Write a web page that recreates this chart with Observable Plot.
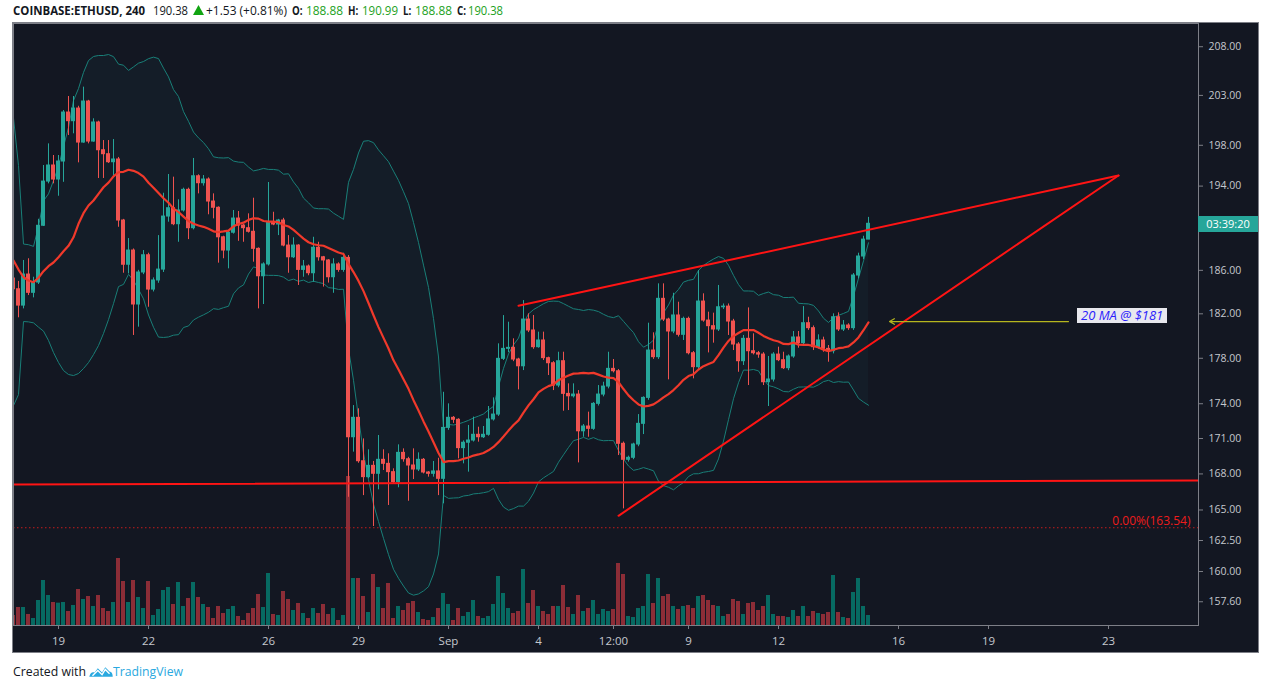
<!DOCTYPE html>
<html><head><meta charset="utf-8">
<script src="https://cdn.jsdelivr.net/npm/d3@7"></script>
<script src="https://cdn.jsdelivr.net/npm/@observablehq/plot@0.6"></script>
<style>
body{margin:0;background:#fff;width:1274px;height:685px;position:relative;overflow:hidden;font-family:"Open Sans",sans-serif;}
.fit{position:absolute;white-space:nowrap;transform-origin:0 50%;display:inline-block;}
#header .fit{top:1px;font-size:13px;line-height:19px;color:#131722;}
#header .b{font-weight:700;}
#header .g{color:#1ba11b;}
#panel{position:absolute;left:13px;top:23px;width:1245px;height:629px;background:#131722;outline:1px solid #7d7f87;}
#panel .layer{position:absolute;left:0;top:0;}
#countdown{position:absolute;left:1185px;top:193px;width:60px;height:16px;background:#26a69a;color:#fff;font-size:11px;line-height:16px;text-align:center;}
#note{position:absolute;left:1064px;top:285px;background:#e8e8ee;color:#2b1dfc;font-style:italic;font-size:13px;line-height:15px;padding:0 4px;white-space:nowrap;}
#caption .fit{top:661px;font-size:13.5px;line-height:20px;color:#131722;}
#caption .tv{color:#2aa9e0;}
#logo{position:absolute;left:89px;top:663px;}
</style></head>
<body>
<div id="header">
  <span class="fit b" data-w="132" style="left:13px">COINBASE:ETHUSD, 240</span>
  <span class="fit" data-w="35" style="left:153px">190.38</span>
  <svg style="position:absolute;left:193px;top:5px" width="11" height="10" viewBox="0 0 11 10"><path d="M5.5 0 L11 10 L0 10 Z" fill="#12a412"/></svg>
  <span class="fit" data-w="81" style="left:206px">+1.53 (+0.81%)</span>
  <span class="fit b" data-w="10" style="left:292px">O:</span><span class="fit g" data-w="37" style="left:306px">188.88</span>
  <span class="fit b" data-w="10" style="left:348px">H:</span><span class="fit g" data-w="36" style="left:362px">190.99</span>
  <span class="fit b" data-w="8" style="left:403px">L:</span><span class="fit g" data-w="37" style="left:415px">188.88</span>
  <span class="fit b" data-w="9" style="left:457px">C:</span><span class="fit g" data-w="35" style="left:468px">190.38</span>
</div>
<div id="panel">
  <div class="layer" id="vol"></div>
  <div class="layer" id="price"></div>
  <div id="countdown">03:39:20</div>
  <div id="note">20 MA @ $181</div>
</div>
<div id="caption">
  <span class="fit" data-w="73" style="left:13px">Created with</span>
  <svg id="logo" width="24" height="16" viewBox="0 0 22 15"><path d="M0 13 C1 9 3 8 5 9 L8 5 L12 9 L15 4 L19 8 C21 8 22 10 22 13 Z" fill="#2aa9e0"/><path d="M3 12 L8 7 L12 11 L15 6 L19 10" stroke="#fff" stroke-width="1.3" fill="none"/></svg>
  <span class="fit tv" data-w="70" style="left:113px">TradingView</span>
</div>
<script>
// ---- data (4-hour candles, first bar 2019-08-17 12:00 UTC) ----
const firstBar = "2019-08-17T12:00Z";
const opens = [185.24,184.25,182.75,185.61,183.92,184.87,190.19,194.44,196.01,194.64,196.40,201.27,200.40,201.67,198.27,202.38,198.37,200.27,197.51,197.12,
196.33,196.60,190.69,186.52,187.85,182.85,185.80,187.41,184.22,185.06,186.07,191.07,191.87,190.34,191.65,193.64,189.96,194.96,194.28,194.64,
192.51,191.91,189.10,187.85,189.53,190.88,190.21,189.96,189.62,188.01,185.45,186.55,190.53,190.31,190.69,188.32,187.22,188.32,186.04,186.36,
185.73,188.11,187.22,186.92,185.36,186.55,186.04,187.16,171.11,172.78,169.07,167.73,168.68,168.01,169.19,168.85,168.15,167.31,169.78,169.24,
168.71,168.37,169.19,168.12,168.01,168.21,167.59,171.91,172.78,172.61,170.18,170.64,170.83,171.32,171.11,171.32,172.64,173.06,177.95,178.84,
178.93,177.89,177.29,181.48,180.49,178.99,179.59,178.01,177.56,175.59,177.74,174.86,174.65,174.80,171.62,172.03,171.83,173.99,174.80,175.50,
177.06,176.85,170.55,169.19,169.36,170.49,172.26,174.51,178.69,178.10,183.37,181.48,180.40,181.85,180.10,181.54,178.45,177.21,183.12,181.39,
180.88,180.58,182.60,182.66,181.30,179.23,177.74,179.74,178.63,178.45,178.33,175.88,176.12,178.33,177.83,177.12,178.16,179.86,179.35,181.15,
180.70,178.99,179.59,178.84,178.63,181.69,180.58,180.94,180.70,185.52,187.29,188.88];
const highs = [185.52,184.97,186.92,187.08,185.36,190.81,196.01,198.14,196.99,196.99,201.47,202.89,202.89,201.90,203.84,202.50,200.64,200.40,198.47,198.47,
198.57,196.80,190.80,188.98,188.00,186.00,187.85,187.60,185.30,189.26,193.31,195.13,194.87,192.68,193.80,193.80,196.70,195.10,195.03,194.80,
193.25,192.00,189.20,189.70,191.65,191.55,190.30,191.33,192.83,188.10,186.70,194.35,191.48,190.80,190.90,189.26,189.05,188.40,186.92,186.50,
189.10,188.63,187.30,187.00,187.08,186.70,187.60,187.38,173.84,173.56,170.97,170.04,169.05,171.26,170.04,169.70,168.43,170.46,170.12,169.40,
170.12,169.78,169.30,168.20,169.05,169.32,175.00,173.99,172.89,172.70,170.80,172.12,172.84,171.97,172.03,173.76,174.51,179.29,181.84,181.24,
179.74,178.00,183.21,182.00,181.85,180.34,180.34,178.10,177.70,178.54,178.54,175.74,175.74,175.15,172.20,173.27,174.10,175.59,175.88,178.54,
177.89,177.00,170.70,169.50,170.60,173.06,174.60,181.15,180.28,184.75,184.75,181.60,183.88,183.06,181.70,181.70,178.60,185.98,183.83,182.15,
182.06,184.60,182.90,182.90,181.50,179.40,180.04,182.54,180.19,178.60,178.50,178.16,178.50,178.99,178.54,178.30,180.40,180.40,182.66,181.69,
180.90,180.10,179.89,179.14,182.00,182.09,181.39,181.10,185.70,187.60,189.20,190.99];
const lows = [183.95,181.64,182.45,183.67,183.46,184.69,190.12,194.22,194.22,193.02,194.37,198.97,199.14,196.27,198.20,198.14,198.30,194.74,194.74,196.21,
195.03,190.05,185.73,185.67,180.04,180.79,185.60,182.60,184.00,184.80,185.80,190.53,190.20,188.63,191.50,188.88,189.80,193.25,194.00,191.24,
190.85,186.67,187.08,186.14,189.40,188.72,188.63,189.50,186.76,182.45,182.85,186.40,190.20,189.26,188.20,185.73,187.10,184.60,185.36,185.50,
184.90,186.86,184.45,184.82,183.88,185.82,185.82,166.05,169.84,168.90,166.19,167.60,163.64,166.67,168.29,165.37,167.20,166.84,168.99,165.72,
167.53,168.20,168.00,167.73,167.73,166.19,165.51,171.70,172.30,169.27,168.85,168.15,170.70,170.69,171.00,171.20,172.50,172.90,177.80,178.50,
177.70,175.21,176.91,180.30,178.80,178.90,177.80,176.47,175.15,175.40,173.35,173.41,174.50,168.93,171.11,171.11,171.70,173.80,174.60,175.30,
176.70,169.55,165.09,169.00,169.20,170.30,171.34,174.30,177.90,177.90,181.30,176.09,180.20,179.90,179.59,178.30,176.18,177.00,181.24,178.48,
179.35,180.40,182.40,180.04,178.69,176.76,177.36,175.59,178.30,178.00,175.59,173.76,175.90,177.70,177.00,176.90,178.00,178.90,179.20,180.50,
178.69,178.80,178.54,177.65,178.39,180.40,180.40,180.50,180.50,185.20,187.00,188.88];
const closes = [184.25,182.75,185.61,183.92,184.87,190.19,194.44,196.01,194.64,196.40,201.27,200.40,201.67,198.27,202.38,198.37,200.27,197.51,197.12,196.33,
196.60,190.69,186.52,187.85,182.85,185.80,187.41,184.22,185.06,186.07,191.07,191.87,190.34,191.65,193.64,189.96,194.96,194.28,194.64,192.51,
191.91,189.10,187.85,189.53,190.88,190.21,189.96,189.62,188.01,185.45,186.55,190.53,190.31,190.69,188.32,187.22,188.32,186.04,186.36,185.73,
188.11,187.22,186.92,185.36,186.55,186.04,187.16,171.11,172.78,169.07,167.73,168.68,168.01,169.19,168.85,168.15,167.31,169.78,169.24,168.71,
168.37,169.19,168.12,168.01,168.21,167.59,171.91,172.78,172.61,170.18,170.64,170.83,171.32,171.11,171.32,172.64,173.06,177.95,178.84,178.93,
177.89,177.29,181.48,180.49,178.99,179.59,178.01,177.56,175.59,177.74,174.86,174.65,174.80,171.62,172.03,171.83,173.99,174.80,175.50,177.06,
176.85,170.55,169.19,169.36,170.49,172.26,174.51,178.69,178.10,183.37,181.48,180.40,181.85,180.10,181.54,178.45,177.21,183.12,181.39,180.88,
180.58,182.60,182.66,181.30,179.23,177.74,179.74,178.63,178.45,178.33,175.88,176.12,178.33,177.83,177.12,178.16,179.86,179.35,181.15,180.70,
178.99,179.59,178.84,178.63,181.69,180.58,180.94,180.70,185.52,187.29,188.88,190.38];
const volumes = [30,54,54,33,21,75,135,90,69,67,69,42,60,108,78,87,57,90,51,42,
69,201,132,69,135,84,51,132,30,48,105,114,63,129,57,81,129,84,63,54,
21,57,36,48,57,27,15,36,51,93,54,156,33,30,102,78,45,66,36,21,
51,36,63,33,51,15,30,447,141,141,87,39,153,114,51,126,21,57,45,66,
72,39,18,15,24,51,96,63,15,51,27,39,75,27,21,27,63,147,96,51,
36,42,168,66,105,57,42,33,57,57,120,54,33,90,42,51,75,33,48,42,
48,186,153,27,24,51,57,153,66,141,87,93,57,48,57,60,51,87,90,75,
60,57,27,33,78,72,33,66,69,45,57,90,33,27,27,24,45,27,57,27,
42,36,33,39,150,39,24,21,99,141,57,30];
// Bollinger (20, 2) values for the first 19 bars (window starts before the view)
const maHead    = [186.92,186.07,185.36,185.06,184.90,185.31,185.92,186.39,186.73,187.22,187.78,188.29,189.10,190.38,191.39,192.13,192.61,193.25,193.89];
const upperHead = [200.72,196.00,188.46,188.40,188.24,190.12,192.58,193.25,194.54,195.91,197.87,199.77,202.48,203.70,205.34,206.57,206.99,207.09,207.09];
const lowerHead = [173.84,174.80,181.30,181.27,181.18,180.79,180.43,179.59,178.51,177.62,176.91,176.56,176.47,176.65,177.09,177.62,178.33,179.14,180.22];
// axes (190.00 is hidden under the countdown label in the original)
const xTickDates  = ["2019-08-19T00:00Z","2019-08-22T00:00Z","2019-08-26T00:00Z","2019-08-29T00:00Z","2019-09-01T00:00Z","2019-09-04T00:00Z","2019-09-06T12:00Z","2019-09-09T00:00Z","2019-09-12T00:00Z","2019-09-16T00:00Z","2019-09-19T00:00Z","2019-09-23T00:00Z"];
const xTickLabels = ["19","22","26","29","Sep","4","12:00","9","12","16","19","23"];
const yTicks = [157.6,160,162.5,165,168,171,174,178,182,186,194,198,203,208];
// drawings
const supportLine = [{t:"2019-08-17T12:00Z", p:167.11},{t:"2019-09-26T00:00Z", p:167.45}];
const wedgeUpper  = [{t:"2019-09-03T08:00Z", p:182.73},{t:"2019-09-23T08:00Z", p:195.03}];
const wedgeLower  = [{t:"2019-09-06T16:00Z", p:164.52},{t:"2019-09-23T08:00Z", p:195.03}];
const fibLevel = 163.54;
const fibLabel = "0.00%(163.54)";
const maArrow = [{t1:"2019-09-21T16:00Z", t2:"2019-09-15T16:48Z", p:181.30}];

// ---- fit header / caption text widths to the original layout ----
document.querySelectorAll(".fit").forEach(el => {
  const target = +el.dataset.w, w = el.getBoundingClientRect().width;
  if (w > 0 && target > 0) el.style.transform = `scaleX(${Math.max(0.75, Math.min(1.2, target / w))})`;
});

// ---- build ----
const H4 = 4*3600e3;
const t0 = Date.parse(firstBar);
const candles = closes.map((c,i)=>({date:new Date(t0+i*H4), open:opens[i], high:highs[i], low:lows[i], close:c, volume:volumes[i], up:c>=opens[i]}));
const bands = candles.map((d,i)=>{
  if (i < 19) return {date:d.date, ma:maHead[i], upper:upperHead[i], lower:lowerHead[i]};
  const w = closes.slice(i-19, i+1);
  const m = d3.mean(w);
  const sd = Math.sqrt(d3.mean(w, v => (v-m)**2));
  return {date:d.date, ma:m, upper:m+2*sd, lower:m-2*sd};
});
const UP = "#26a69a", DOWN = "#ef5350";
const half = 96*60e3;
const xDomain = [new Date(t0), new Date("2019-09-26T00:00Z")];
const W = 1245, Hh = 629;
const margins = {marginLeft:0, marginRight:60, marginTop:0, marginBottom:27};
const baseStyle = "background:transparent;overflow:visible;font-family:'Open Sans',sans-serif;";

const volPlot = Plot.plot({
  width:W, height:Hh, ...margins, style: baseStyle,
  x:{type:"utc", domain:xDomain, axis:null},
  y:{domain:[0,1806], axis:null},
  marks:[
    Plot.rect(candles, {x1:d=>new Date(+d.date-half), x2:d=>new Date(+d.date+half), y1:0, y2:"volume",
      fill:d=>d.up ? "#076a62" : "#8c2d37", clip:true})
  ]
});
document.getElementById("vol").append(volPlot);

const labelMap = new Map(xTickDates.map((s,i)=>[Date.parse(s), xTickLabels[i]]));
const pt = s => new Date(s);
const pricePlot = Plot.plot({
  width:W, height:Hh, ...margins, style: baseStyle + "color:#c5c8ce;",
  x:{type:"utc", domain:xDomain},
  y:{type:"log", domain:[155.74,210.43]},
  marks:[
    Plot.areaY(bands, {x:"date", y1:"lower", y2:"upper", fill:"#26a69a", fillOpacity:0.05, curve:"linear", clip:true}),
    Plot.line(bands, {x:"date", y:"upper", stroke:"#197f78", strokeWidth:1, clip:true}),
    Plot.line(bands, {x:"date", y:"lower", stroke:"#197f78", strokeWidth:1, clip:true}),
    Plot.ruleY([fibLevel], {stroke:"#c41c1c", strokeDasharray:"1.5,2.5", strokeWidth:1}),
    Plot.ruleX(candles, {x:"date", y1:"low", y2:"high", stroke:d=>d.up?UP:DOWN, strokeWidth:1, clip:true}),
    Plot.rect(candles, {x1:d=>new Date(+d.date-half), x2:d=>new Date(+d.date+half), y1:"open", y2:"close",
      fill:d=>d.up?UP:DOWN, insetTop:-0.5, insetBottom:-0.5, clip:true}),
    Plot.line(bands, {x:"date", y:"ma", stroke:"#f0392b", strokeWidth:2.2, clip:true}),
    Plot.line(supportLine, {x:d=>pt(d.t), y:"p", stroke:"#ff1414", strokeWidth:2, clip:true}),
    Plot.line(wedgeUpper, {x:d=>pt(d.t), y:"p", stroke:"#ff1414", strokeWidth:2, clip:true}),
    Plot.line(wedgeLower, {x:d=>pt(d.t), y:"p", stroke:"#ff1414", strokeWidth:2, clip:true}),
    Plot.arrow(maArrow, {x1:d=>pt(d.t1), x2:d=>pt(d.t2), y1:"p", y2:"p", stroke:"#b5b51e", strokeWidth:1.2, headLength:7}),
    Plot.text([fibLabel], {frameAnchor:"right", y:()=>fibLevel, text:d=>d, dx:-8, dy:-7, textAnchor:"end", fill:"#ee1c1c", fontSize:12}),
    Plot.frame({stroke:"#7d7f87"}),
    Plot.axisY(yTicks, {anchor:"right", tickFormat:d3.format(".2f"), tickSize:4, tickPadding:6, stroke:"#7d7f87", fill:"#c5c8ce", fontSize:10.5, label:null}),
    Plot.axisX(xTickDates.map(s=>new Date(s)), {anchor:"bottom", tickFormat:d=>labelMap.get(+d), tickSize:4, tickPadding:7, stroke:"#7d7f87", fill:"#c5c8ce", fontSize:11.5, label:null})
  ]
});
document.getElementById("price").append(pricePlot);
</script>
</body></html>
